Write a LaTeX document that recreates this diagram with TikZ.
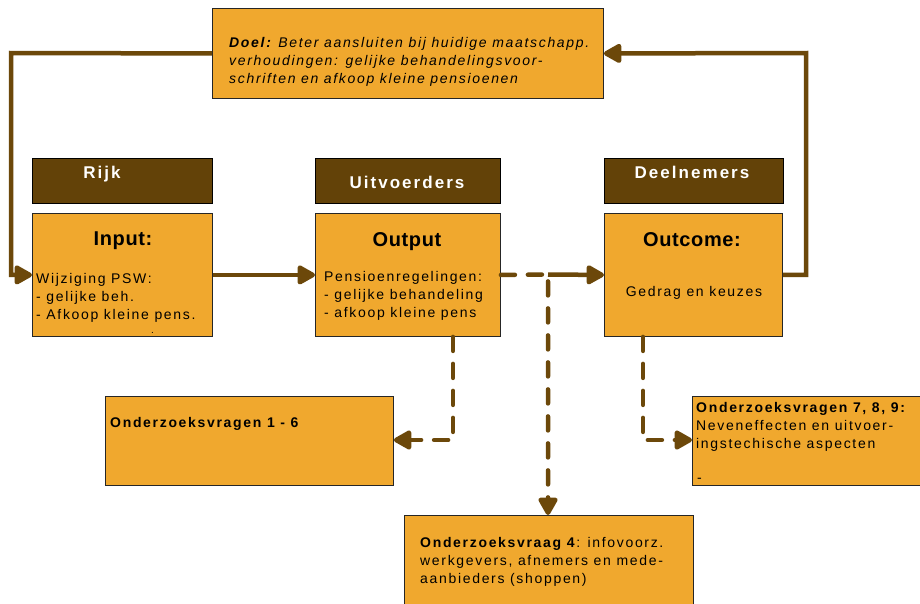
\documentclass[tikz,border=0pt]{standalone}
\usepackage{fontspec}
\setmainfont{Liberation Sans}[LetterSpace=12]
\newfontfamily\titlefont{Liberation Sans}[LetterSpace=3]
\usetikzlibrary{arrows.meta,calc}
\definecolor{boxfill}{RGB}{240,168,46}
\definecolor{hdrfill}{RGB}{99,66,8}
\definecolor{connc}{RGB}{108,72,10}
\begin{document}
\begin{tikzpicture}[x=1pt,y=-1pt,
  box/.style={draw=black!85,line width=0.9pt,fill=boxfill,anchor=north west,inner sep=0pt},
  hdr/.style={draw=black,line width=0.9pt,fill=hdrfill,anchor=north west,inner sep=0pt},
  txt/.style={inner sep=0pt,anchor=north west,align=left,text=black,font=\fontsize{14}{18.3}\selectfont},
  ttl/.style={inner sep=0pt,anchor=north,text=black,font=\titlefont\fontsize{20}{23}\selectfont\bfseries},
  htxt/.style={inner sep=0pt,anchor=north,text=white,font=\fontsize{17}{20}\selectfont\bfseries},
  conn/.style={draw=connc,line width=4.5pt},
  dconn/.style={conn,dash pattern=on 14pt off 13pt,line cap=round},
  tip/.style={-{Triangle[length=20pt,width=21pt,round=false]}}
]
\fill[white] (0,0) rectangle (920,603);
\useasboundingbox (0,0) rectangle (920,603);

% boxes
\node[box,minimum width=391pt,minimum height=90pt] (Doel) at (212,8) {};
\node[hdr,minimum width=180pt,minimum height=45pt] (Rijk) at (32,158) {};
\node[hdr,minimum width=185pt,minimum height=45pt] (Uitv) at (315,158) {};
\node[hdr,minimum width=179pt,minimum height=45pt] (Deel) at (604,158) {};
\node[box,minimum width=180pt,minimum height=123pt] (Input) at (32,213) {};
\node[box,minimum width=185pt,minimum height=123pt] (Output) at (315,213) {};
\node[box,minimum width=178pt,minimum height=123pt] (Outcome) at (604,213) {};
\node[box,minimum width=288pt,minimum height=89pt] (V16) at (105,396) {};
\node[box,minimum width=240pt,minimum height=89pt] (V79) at (692,396) {};
\node[box,minimum width=289pt,minimum height=100pt] (V4) at (404,515) {};

% texts
\node[txt] (tDoel) at (229,37) {{\bfseries\itshape Doel:} \itshape Beter aansluiten bij huidige maatschapp.\\
\itshape verhoudingen: gelijke behandelingsvoor-\\
\itshape schriften en afkoop kleine pensioenen};
\node[htxt] (tRijk) at (102,166) {Rijk};
\node[htxt] (tUitv) at (407,176) {Uitvoerders};
\node[htxt] (tDeel) at (692,166) {Deelnemers};
\node[ttl] (tIn) at (123,232) {Input:};
\node[ttl] (tOut) at (407,232) {Output};
\node[ttl] (tOc) at (692,232) {Outcome:};
\node[txt] (bIn) at (36,273) {Wijziging PSW:\\- gelijke beh.\\- Afkoop kleine pens.};
\node[txt] (bOut) at (324,271) {Pensioenregelingen:\\- gelijke behandeling\\- afkoop kleine pens};
\node[txt,anchor=north] (bOc) at (694,286) {Gedrag en keuzes};
\node[txt,font=\fontsize{10}{12}\selectfont] (dot) at (151,332) {.};
\node[txt,font=\fontsize{14}{18.3}\selectfont\bfseries] (b16) at (110,417) {Onderzoeksvragen 1 - 6};
\node[txt] (b79) at (696,402) {\textbf{Onderzoeksvragen 7, 8, 9:}\\Neveneffecten en uitvoer-\\ingstechische aspecten};
\node[txt] (b79d) at (697,478) {-};
\node[txt] (b4) at (420,537) {\textbf{Onderzoeksvraag 4}: infovoorz.\\werkgevers, afnemers en mede-\\aanbieders (shoppen)};

% connectors
\coordinate (fbR) at (806,53);
\coordinate (fbL) at (11,53);
\coordinate (split) at (548,274.5);
\coordinate (d1) at (453,440);
\coordinate (d2) at (643,440);

\draw[conn,tip] (Input.east) -- (Output.west);
\draw[conn,tip] (Outcome.east) -| (fbR) -- (Doel.east);
\draw[conn,tip] (Doel.west) -- (fbL) |- (Input.west);
\draw[conn,tip] (split) -- (Outcome.west);
\draw[dconn,tip] (Output.east) -- (split) -- (split |- V4.north);
\draw[dconn,tip] (d1 |- Output.south) -- (d1) -- (d1 -| V16.east);
\draw[dconn,tip] (d2 |- Outcome.south) -- (d2) -- (d2 -| V79.west);
\end{tikzpicture}
\end{document}
